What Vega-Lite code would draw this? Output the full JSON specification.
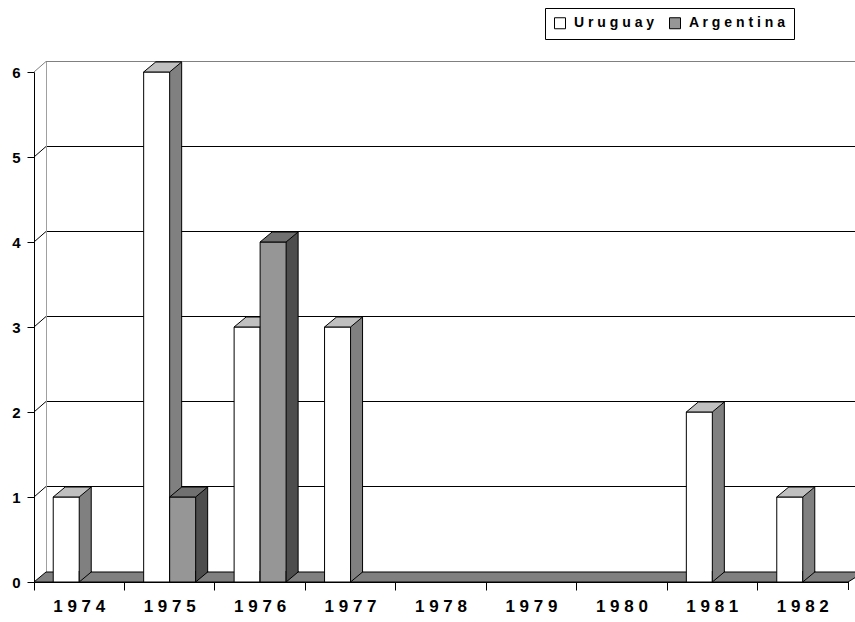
{
  "$schema": "https://vega.github.io/schema/vega-lite/v6.json",
  "width": 814,
  "height": 510,
  "autosize": "none",
  "padding": {"left": 34, "top": 72, "right": 7, "bottom": 40},
  "background": "white",
  "config": {"view": {"stroke": null}, "font": "Liberation Sans"},
  "datasets": {
    "bars": [
      {"year": "1974", "country": "Uruguay", "value": 1},
      {"year": "1975", "country": "Uruguay", "value": 6},
      {"year": "1976", "country": "Uruguay", "value": 3},
      {"year": "1977", "country": "Uruguay", "value": 3},
      {"year": "1978", "country": "Uruguay", "value": 0},
      {"year": "1979", "country": "Uruguay", "value": 0},
      {"year": "1980", "country": "Uruguay", "value": 0},
      {"year": "1981", "country": "Uruguay", "value": 2},
      {"year": "1982", "country": "Uruguay", "value": 1},
      {"year": "1974", "country": "Argentina", "value": 0},
      {"year": "1975", "country": "Argentina", "value": 1},
      {"year": "1976", "country": "Argentina", "value": 4},
      {"year": "1977", "country": "Argentina", "value": 0},
      {"year": "1978", "country": "Argentina", "value": 0},
      {"year": "1979", "country": "Argentina", "value": 0},
      {"year": "1980", "country": "Argentina", "value": 0},
      {"year": "1981", "country": "Argentina", "value": 0},
      {"year": "1982", "country": "Argentina", "value": 0}
    ],
    "grid": [{"v": 1}, {"v": 2}, {"v": 3}, {"v": 4}, {"v": 5}, {"v": 6}]
  },
  "layer": [
    {
      "data": {"name": "grid"},
      "mark": {"type": "point", "shape": "M-0.97136,0L-0.94272,-0.02506L1.01,-0.02506", "size": 702244, "filled": false, "strokeWidth": 1, "opacity": 1},
      "encoding": {
        "x": {"datum": "1978", "type": "nominal", "scale": {"type": "band", "domain": ["1974","1975","1976","1977","1978","1979","1980","1981","1982"], "paddingInner": 0, "paddingOuter": 0}},
        "y": {"field": "v", "type": "quantitative", "title": null, "scale": {"domain": [0, 6], "nice": false}},
        "stroke": {"condition": {"test": "datum.v == 6", "value": "#808080"}, "value": "black"}
      }
    },
    {
      "data": {"values": [{"v": 0}]},
      "mark": {"type": "point", "shape": "M-0.941527,-0.023866L-0.941527,-1.241050", "size": 702244, "filled": false, "stroke": "#a0a0a0", "strokeWidth": 1, "opacity": 1},
      "encoding": {
        "x": {"datum": "1978", "type": "nominal"},
        "y": {"field": "v", "type": "quantitative", "title": null}
      }
    },
    {
      "data": {"values": [{"v": 0}]},
      "mark": {"type": "point", "shape": "M-0.97136,0L0.97136,0L1.01,-0.023866L-0.94272,-0.023866Z M0.97255,0L0.97255,0.019093", "size": 702244, "filled": true, "fill": "#808080", "stroke": "black", "strokeWidth": 1, "opacity": 1},
      "encoding": {
        "x": {"datum": "1978", "type": "nominal"},
        "y": {"field": "v", "type": "quantitative", "title": null}
      }
    },
    {
      "data": {"name": "bars"},
      "transform": [{"filter": "datum.country == 'Uruguay' && datum.value > 0"}],
      "layer": [
        {
          "mark": {"type": "bar", "width": 26, "xOffset": -1, "yOffset": -10, "y2Offset": -10, "fill": "#808080", "stroke": "black", "strokeWidth": 1},
          "encoding": {
            "x": {"field": "year", "type": "nominal", "title": null},
            "y": {"field": "value", "type": "quantitative", "title": null},
            "y2": {"datum": 0}
          }
        },
        {
          "mark": {"type": "bar", "width": 26, "xOffset": -13, "stroke": "black", "strokeWidth": 1, "opacity": 1},
          "encoding": {
            "x": {"field": "year", "type": "nominal", "title": null,
              "axis": {"bandPosition": 0, "tickSize": 8, "labelAngle": 0, "labelAlign": "center", "labelOffset": 0, "labelFlush": false, "labelFontSize": 17, "labelFontWeight": "bold", "labelColor": "black", "labelPadding": 16, "labelExpr": "join(split(datum.label, ''), ' ')", "domainColor": "black", "tickColor": "black", "zindex": 1, "grid": false}},
            "y": {"field": "value", "type": "quantitative", "title": null,
              "axis": {"values": [0,1,2,3,4,5,6], "format": "d", "tickSize": 7, "labelPadding": 7, "labelFontSize": 15, "labelFontWeight": "bold", "labelColor": "black", "domainColor": "black", "tickColor": "black", "grid": false, "zindex": 1}},
            "y2": {"datum": 0},
            "fill": {"field": "country", "type": "nominal", "title": null,
              "scale": {"domain": ["Uruguay", "Argentina"], "range": ["#ffffff", "#969696"]},
              "legend": {"orient": "none", "legendX": 511, "legendY": -64, "direction": "horizontal", "title": null,
                "strokeColor": "black", "fillColor": "white", "padding": 8,
                "symbolType": "square", "symbolSize": 121, "symbolStrokeColor": "black", "symbolStrokeWidth": 1, "symbolOpacity": 1,
                "labelFont": "Liberation Sans", "labelFontSize": 14, "labelFontWeight": "bold", "labelColor": "black", "labelOffset": 7, "columnPadding": 12,
                "labelExpr": "join(split(datum.label, ''), ' ')"}}
          }
        },
        {
          "mark": {"type": "point", "shape": "M-1,0.263L0.368,0.263L1,-0.263L-0.368,-0.263Z", "size": 1444, "filled": true, "fill": "#c0c0c0", "stroke": "black", "strokeWidth": 1, "opacity": 1, "xOffset": -7, "yOffset": -5},
          "encoding": {
            "x": {"field": "year", "type": "nominal", "title": null},
            "y": {"field": "value", "type": "quantitative", "title": null}
          }
        },
        {
          "mark": {"type": "point", "shape": "M0,-0.9167L0,0L1,-0.8333L1,-0.9167", "size": 576, "filled": true, "fill": "#808080", "stroke": "black", "strokeWidth": 1, "opacity": 1, "xOffset": 0},
          "encoding": {
            "x": {"field": "year", "type": "nominal", "title": null},
            "y": {"datum": 0}
          }
        }
      ]
    },
    {
      "data": {"name": "bars"},
      "transform": [{"filter": "datum.country == 'Argentina' && datum.value > 0"}],
      "layer": [
        {
          "mark": {"type": "bar", "width": 26, "xOffset": 25, "yOffset": -10, "y2Offset": -10, "fill": "#4d4d4d", "stroke": "black", "strokeWidth": 1},
          "encoding": {
            "x": {"field": "year", "type": "nominal", "title": null},
            "y": {"field": "value", "type": "quantitative", "title": null},
            "y2": {"datum": 0}
          }
        },
        {
          "mark": {"type": "bar", "width": 26, "xOffset": 13, "stroke": "black", "strokeWidth": 1, "opacity": 1},
          "encoding": {
            "x": {"field": "year", "type": "nominal", "title": null},
            "y": {"field": "value", "type": "quantitative", "title": null},
            "y2": {"datum": 0},
            "fill": {"field": "country", "type": "nominal", "title": null}
          }
        },
        {
          "mark": {"type": "point", "shape": "M-1,0.263L0.368,0.263L1,-0.263L-0.368,-0.263Z", "size": 1444, "filled": true, "fill": "#707070", "stroke": "black", "strokeWidth": 1, "opacity": 1, "xOffset": 19, "yOffset": -5},
          "encoding": {
            "x": {"field": "year", "type": "nominal", "title": null},
            "y": {"field": "value", "type": "quantitative", "title": null}
          }
        },
        {
          "mark": {"type": "point", "shape": "M0,-0.9167L0,0L1,-0.8333L1,-0.9167", "size": 576, "filled": true, "fill": "#4d4d4d", "stroke": "black", "strokeWidth": 1, "opacity": 1, "xOffset": 26},
          "encoding": {
            "x": {"field": "year", "type": "nominal", "title": null},
            "y": {"datum": 0}
          }
        }
      ]
    }
  ]
}
